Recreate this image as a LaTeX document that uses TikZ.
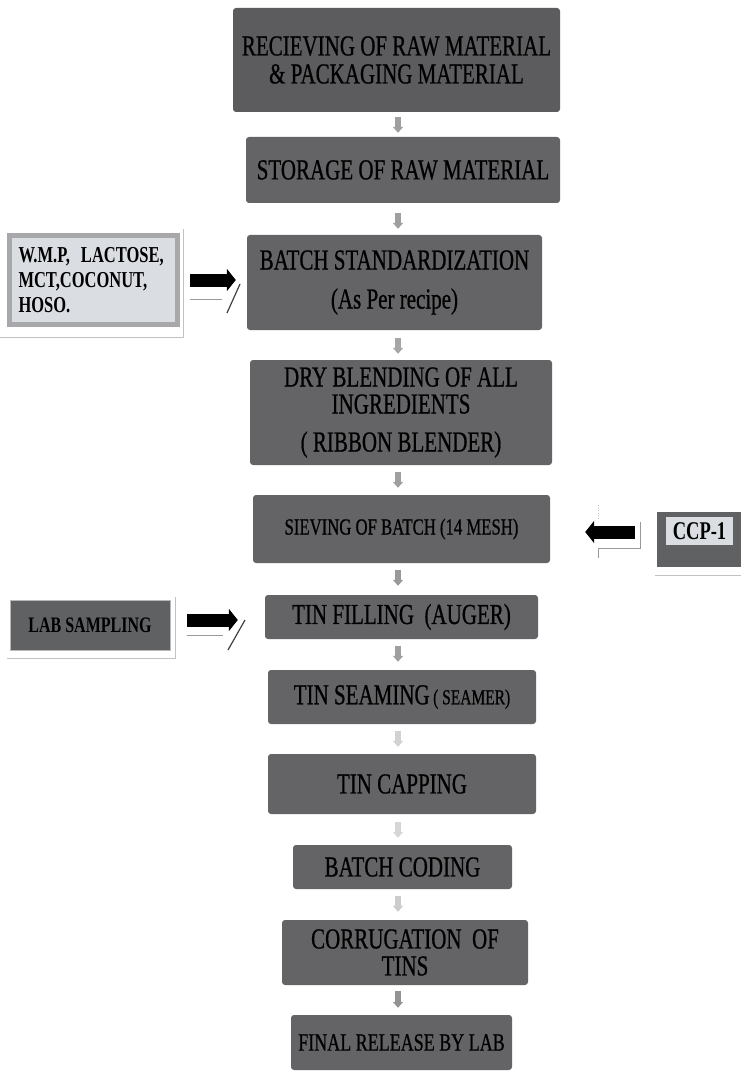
\documentclass[tikz,border=0pt]{standalone}
\usepackage{fontspec}
\setmainfont{Liberation Serif}
\newfontfamily\heavyserif{Liberation Serif}[FakeBold=0.8]
\usetikzlibrary{arrows.meta,calc}
\newcommand\vsc[1]{\scalebox{1}[1.38]{#1}}
\definecolor{boxgray}{RGB}{100,100,102}
\definecolor{labgray}{RGB}{96,97,99}
\definecolor{lightfill}{RGB}{218,221,226}
\definecolor{framegray}{RGB}{168,168,170}
\lineskiplimit=-30pt
\begin{document}
\begin{tikzpicture}[x=1pt,y=-1pt,
  mainbox/.style={fill=boxgray, rounded corners=3pt, inner sep=0pt, align=center, text=black},
  fa/.style={font=\heavyserif\fontsize{21}{21}\selectfont},
  fb/.style={font=\heavyserif\fontsize{16.7}{21}\selectfont},
  sidefont/.style={font=\bfseries\fontsize{16.5}{25}\selectfont},
  flowarr/.style={draw=#1, line width=5.5pt, -{Triangle[width=10pt,length=6pt]}},
  flowarr/.default={gray!75},
  blkarr/.style={draw=black, line width=13pt, -{Triangle[width=22pt,length=9pt]}},
  markline/.style={draw=gray!80, line width=1pt},
]
\useasboundingbox[fill=white] (0,0) rectangle (741,1075);
\coordinate (ax) at (398,0);

% main chain
\node[mainbox, fa, fill=boxgray!92!black, minimum width=327pt, minimum height=104pt] (recv) at (396.5,60)
  {\vsc{RECIEVING OF RAW MATERIAL}\\[7pt]\vsc{\& PACKAGING MATERIAL}};
\node[mainbox, fa, minimum width=314pt, minimum height=66pt] (store) at (403,170)
  {\vsc{STORAGE OF RAW MATERIAL}};
\node[mainbox, fa, minimum width=295pt, minimum height=95pt] (batch) at (394.5,282.5)
  {\vsc{BATCH STANDARDIZATION}\\[18pt]\vsc{(As Per recipe)}};
\node[mainbox, fa, minimum width=302pt, minimum height=105pt] (dry) at (401,412.5)
  {\vsc{DRY BLENDING OF ALL}\\[6pt]\vsc{INGREDIENTS}\\[17pt]\vsc{( RIBBON BLENDER)}};
\node[mainbox, fb, minimum width=297pt, minimum height=68pt] (sieve) at (401.5,529)
  {\vsc{SIEVING OF BATCH (14 MESH)}};
\node[mainbox, fa, minimum width=273pt, minimum height=44pt] (fill) at (401.5,617)
  {\vsc{TIN FILLING~ (AUGER)}};
\node[mainbox, fa, minimum width=268pt, minimum height=54pt] (seam) at (402,697)
  {\vsc{TIN SEAMING\,{\fontsize{15.5}{15.5}\selectfont( SEAMER)}}};
\node[mainbox, fa, minimum width=268pt, minimum height=60pt] (cap) at (402,784)
  {\vsc{TIN CAPPING}};
\node[mainbox, fa, minimum width=219pt, minimum height=44pt] (code) at (402.5,867)
  {\vsc{BATCH CODING}};
\node[mainbox, fa, minimum width=246pt, minimum height=65pt] (corr) at (405,952.5)
  {\vsc{CORRUGATION~ OF}\\[6pt]\vsc{TINS}};
\node[mainbox, font=\heavyserif\fontsize{18}{18}\selectfont, minimum width=221pt, minimum height=55pt] (final) at (401.5,1042.5)
  {\vsc{FINAL RELEASE BY LAB}};

% small flow arrows
\draw[flowarr, shorten <=5pt, shorten >=4pt] (recv.south -| ax) -- (store.north -| ax);
\draw[flowarr, shorten <=10pt, shorten >=6pt] (store.south -| ax) -- (batch.north -| ax);
\draw[flowarr=gray!70, shorten <=8pt, shorten >=6pt] (batch.south -| ax) -- (dry.north -| ax);
\draw[flowarr, shorten <=7pt, shorten >=7pt] (dry.south -| ax) -- (sieve.north -| ax);
\draw[flowarr=gray!80, shorten <=7pt, shorten >=9pt] (sieve.south -| ax) -- (fill.north -| ax);
\draw[flowarr, shorten <=7pt, shorten >=8pt] (fill.south -| ax) -- (seam.north -| ax);
\draw[flowarr=gray!35, shorten <=7pt, shorten >=7pt] (seam.south -| ax) -- (cap.north -| ax);
\draw[flowarr=gray!32, shorten <=8pt, shorten >=7pt] (cap.south -| ax) -- (code.north -| ax);
\draw[flowarr=gray!40, shorten <=7pt, shorten >=8pt] (code.south -| ax) -- (corr.north -| ax);
\draw[flowarr=gray!85, shorten <=6pt, shorten >=7pt] (corr.south -| ax) -- (final.north -| ax);

% side inputs
\draw[framegray!70, line width=0.8pt] (0,337) -- (183,337) -- (183,229);
\node[draw=framegray, line width=5pt, fill=lightfill, minimum width=168pt, minimum height=89pt,
      inner sep=0pt, text width=150pt, align=left, sidefont] (wmp) at (93.5,280)
  {\vsc{W.M.P,\ \ LACTOSE,}\\\vsc{MCT,COCONUT,}\\\vsc{HOSO.}};
\draw[blkarr, shorten <=10pt, shorten >=11pt] (wmp.east) -- (wmp.east -| batch.west);
\draw[markline] (190,299) -- (222,299);
\draw[draw=gray!50!black, line width=1.2pt] (227,313) -- (240,284);

\draw[framegray!70, line width=0.8pt] (7,658) -- (175,658) -- (175,597);
\node[fill=labgray, draw=gray!55, line width=0.6pt, minimum width=160pt, minimum height=50pt,
      inner sep=0pt, font=\bfseries\fontsize{16}{16}\selectfont] (lab) at (90,625)
  {\vsc{LAB SAMPLING}};
\draw[blkarr, shorten <=17pt, shorten >=27pt] ([yshift=5pt]lab.east) -- ([yshift=5pt]lab.east -| fill.west);
\draw[markline] (187,635) -- (223,635);
\draw[draw=gray!50!black, line width=1.2pt] (228,650) -- (245,620);

% CCP-1
\node[fill=labgray, minimum width=84pt, minimum height=55pt, inner sep=0pt] (ccp) at (699,539.5) {};
\node[fill=lightfill, minimum width=67pt, minimum height=28pt, inner sep=0pt,
      font=\bfseries\fontsize{18.5}{18.5}\selectfont] (ccptext) at (699.5,531) {\vsc{CCP-1}};
\draw[framegray!70, line width=0.8pt] (655,575) -- (741,575);
\draw[blkarr, shorten <=22pt, shorten >=35pt] ([yshift=7.5pt]ccp.west) -- ([yshift=7.5pt]ccp.west -| sieve.east);
\draw[markline] (640,522) -- (640,548) -- (598,548) -- (598,558);
\draw[gray!50, line width=0.6pt, dotted] (598,505) -- (598,520);
\end{tikzpicture}
\end{document}
